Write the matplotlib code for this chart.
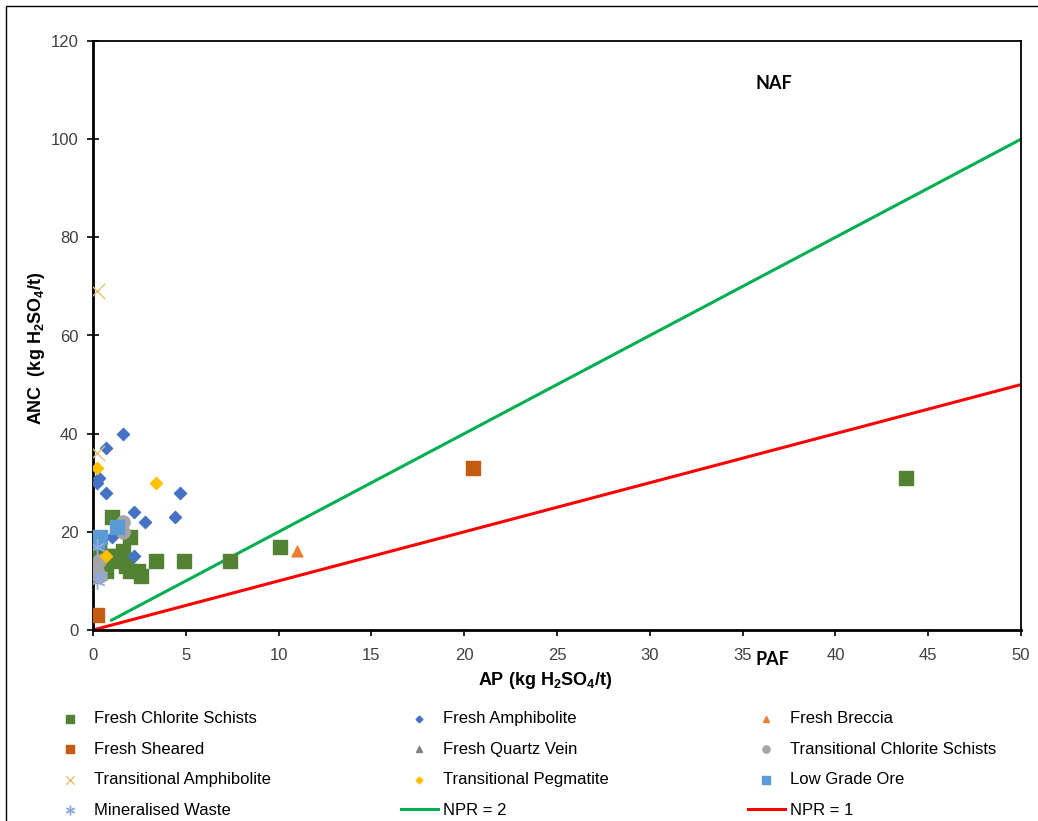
import numpy as np
import matplotlib
matplotlib.use("Agg")
import matplotlib.pyplot as plt
from matplotlib.patches import Rectangle

plt.rcParams['font.family'] = ['Liberation Sans', 'DejaVu Sans']

# AP / ANC values per lithology (kg H2SO4/t)
fcs_ap = [43.8, 10.1, 7.4, 4.9, 3.4, 2.6, 2.4, 2.0, 2.0, 1.8, 1.6, 1.4, 1.0, 1.0, 0.8, 0.7, 0.4, 0.3, 0.3, 0.2]
fcs_anc = [31, 17, 14, 14, 14, 11, 12, 19, 12, 13, 16, 14, 23, 15, 15, 12, 14, 17, 16, 15]

famph_ap = [1.6, 0.7, 0.3, 0.2, 0.7, 4.7, 2.2, 2.8, 4.4, 1.0, 2.2, 0.5]
famph_anc = [40, 37, 31, 30, 28, 28, 24, 22, 23, 19, 15, 19]

fbrec_ap = [11.0]
fbrec_anc = [16]

fshear_ap = [20.5, 0.2, 0.0]
fshear_anc = [33, 3, 11]

fqv_ap = [0.2]
fqv_anc = [12]

tcs_ap = [1.6, 1.6, 0.3, 0.4, 0.2]
tcs_anc = [22, 20, 14, 11, 12]

tamph_ap = [0.2, 0.2]
tamph_anc = [69, 36]

tpeg_ap = [0.2, 3.4, 0.7]
tpeg_anc = [33, 30, 15]

lgo_ap = [1.3, 0.4, 0.2, 0.1]
lgo_anc = [21, 19, 18, 18.5]

mw_ap = [0.2, 0.2, 0.4]
mw_anc = [10, 17, 11]

# NPR reference lines
npr2_ap = [1, 50]
npr1_ap = [0, 50]

fig = plt.figure(figsize=(10.38, 8.21), dpi=100)
ax = fig.add_axes([93 / 1038, 1 - 630 / 821, (1021 - 93) / 1038, (630 - 41) / 821])

ax.scatter(fcs_ap, fcs_anc, marker='s', s=90, color='#548235', label='Fresh Chlorite Schists', zorder=3)
ax.scatter(famph_ap, famph_anc, marker='D', s=38, color='#4472C4', label='Fresh Amphibolite', zorder=3)
ax.scatter(fbrec_ap, fbrec_anc, marker='^', s=60, color='#ED7D31', label='Fresh Breccia', zorder=3)
ax.scatter(fshear_ap, fshear_anc, marker='s', s=90, color='#C55A11', label='Fresh Sheared', zorder=3)
ax.scatter(fqv_ap, fqv_anc, marker='^', s=60, color='#7F7F7F', label='Fresh Quartz Vein', zorder=3)
ax.scatter(tcs_ap, tcs_anc, marker='o', s=90, color='#A5A5A5', label='Transitional Chlorite Schists', zorder=3)
ax.scatter(tamph_ap, tamph_anc, marker='x', s=120, color='#E6C16E', linewidths=1, label='Transitional Amphibolite', zorder=3)
ax.scatter(tpeg_ap, tpeg_anc, marker='D', s=38, color='#FFC000', label='Transitional Pegmatite', zorder=3)
ax.scatter(lgo_ap, lgo_anc, marker='s', s=110, color='#5B9BD5', label='Low Grade Ore', zorder=3)
ax.scatter(mw_ap, mw_anc, marker=(6, 2, 0), s=130, color='#8FAADC', linewidths=1, label='Mineralised Waste', zorder=3)

ax.plot(npr2_ap, [2 * v for v in npr2_ap], color='#00B050', lw=2.2, label='NPR = 2', zorder=2)
ax.plot(npr1_ap, [1 * v for v in npr1_ap], color='#FF0000', lw=2.2, label='NPR = 1', zorder=2)

ax.set_xlim(0, 50)
ax.set_ylim(0, 120)
ax.set_xticks(np.arange(0, 51, 5))
ax.set_yticks(np.arange(0, 121, 20))
ax.tick_params(axis='x', direction='out', length=4, width=1.2, labelsize=12, labelcolor='#404040', pad=9)
ax.tick_params(axis='y', direction='inout', length=9, width=1.2, labelsize=12, labelcolor='#404040', pad=6)
for sp in ax.spines.values():
    sp.set_linewidth(1.3)
ax.spines['left'].set_linewidth(2)
ax.spines['bottom'].set_linewidth(2)

ax.set_xlabel('AP (kg H$_\\mathregular{2}$SO$_\\mathregular{4}$/t)', fontsize=13, fontweight='bold')
ax.set_ylabel('ANC  (kg H$_\\mathregular{2}$SO$_\\mathregular{4}$/t)', fontsize=13, fontweight='bold')
ax.xaxis.set_label_coords(0.487, -0.068)
ax.yaxis.set_label_coords(-0.05, 0.479)

ax.text(36.7, 111.4, 'NAF', fontsize=13, fontweight='bold', family='Lato', ha='center', va='center')
ax.text(36.6, -6.1, 'PAF', fontsize=13, fontweight='bold', family='Lato', ha='center', va='center', clip_on=False)

# legend in three fixed columns, filled row by row
handles, labels = ax.get_legend_handles_labels()
cols = [[0, 3, 6, 9], [1, 4, 7, 10], [2, 5, 8, 11]]
col_x = [52 / 1038, 401 / 1038, 748 / 1038]
for ci, idx in enumerate(cols):
    fig.legend([handles[i] for i in idx], [labels[i] for i in idx],
               loc='upper left', bbox_to_anchor=(col_x[ci], 1 - 711 / 821),
               frameon=False, fontsize=12, markerscale=0.55, handlelength=2.2,
               handletextpad=0.3, labelspacing=0.93, borderpad=0, borderaxespad=0)

# outer chart frame
fig.patches.append(Rectangle((6 / 1038, -0.1), 1.2, 1.1 - 6 / 821, transform=fig.transFigure,
                             fill=False, edgecolor='black', lw=1))

fig.savefig('out.png', dpi=100)
